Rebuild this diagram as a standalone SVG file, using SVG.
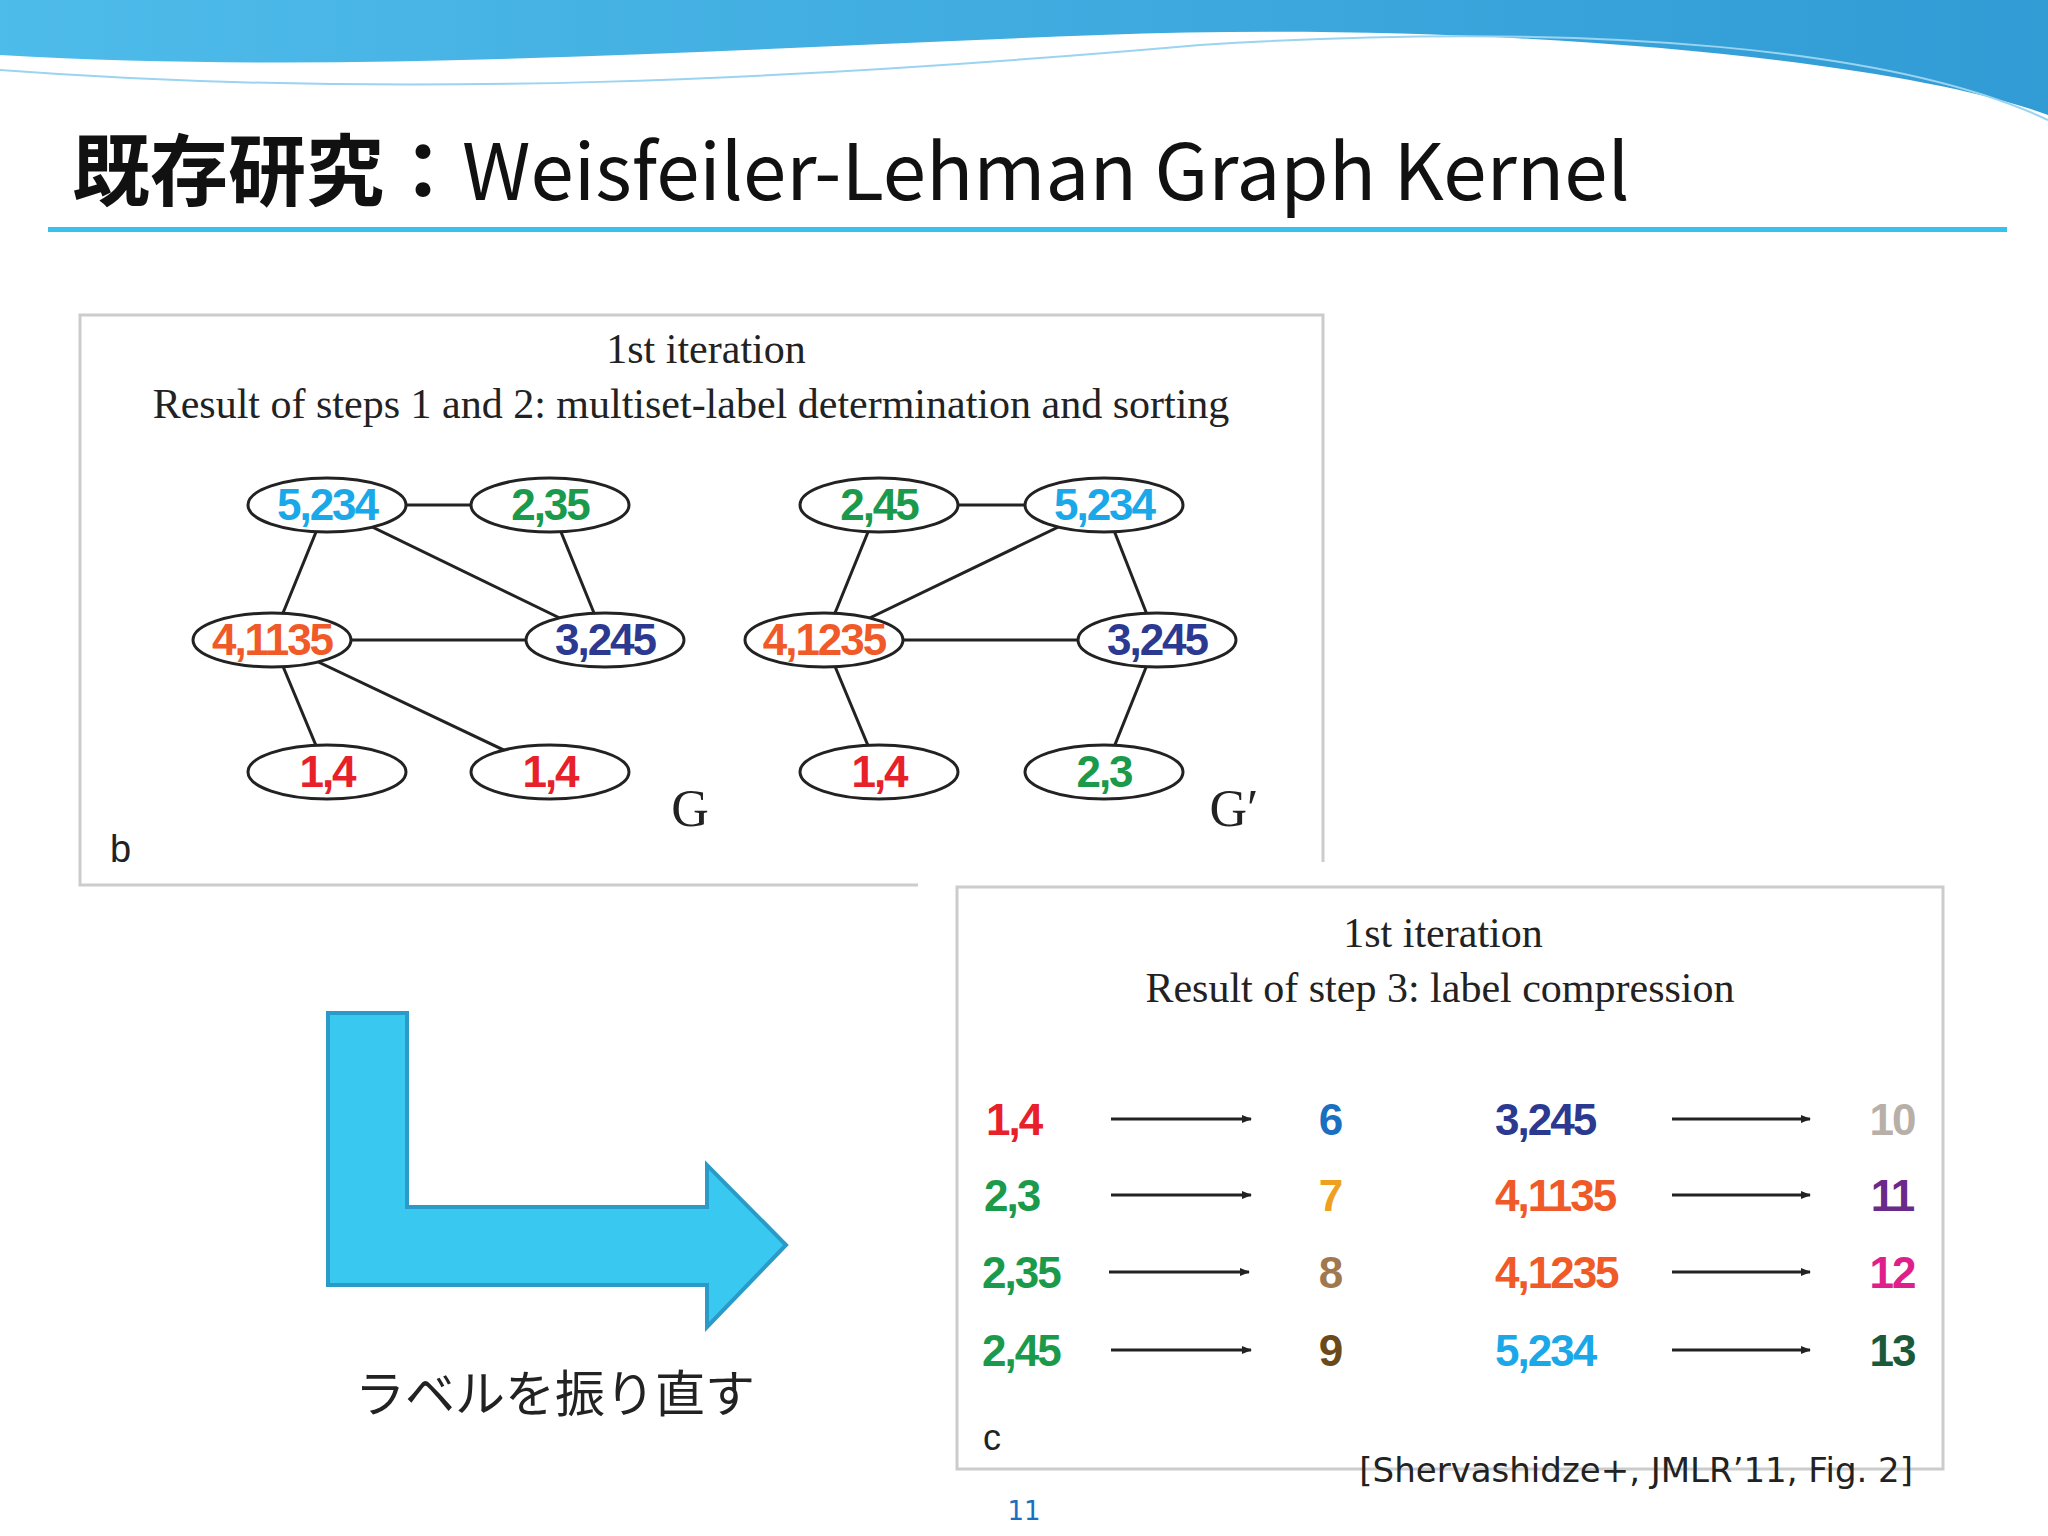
<svg xmlns="http://www.w3.org/2000/svg" width="2048" height="1536" viewBox="0 0 2048 1536">
<style>
.ser{font-family:"Liberation Serif","DejaVu Serif",serif;fill:#222}
.nl{font-family:"Liberation Sans Narrow","Liberation Sans",sans-serif;font-weight:bold;font-size:44px;letter-spacing:-2px;text-anchor:middle}
.nd ellipse{fill:#fff;stroke:#222;stroke-width:3}
.e line{stroke:#222;stroke-width:3}
.ar line{stroke:#222;stroke-width:3}
.r{fill:#e8202a}.g{fill:#1a9a4a}.c{fill:#1aa8e8}.o{fill:#f05a28}.n{fill:#2b3990}
</style>
<defs>
<linearGradient id="wg" x1="0" y1="0" x2="1" y2="0"><stop offset="0" stop-color="#3ab4e8"/><stop offset="1" stop-color="#1a90d0"/></linearGradient>
<marker id="ah" markerWidth="10" markerHeight="10" refX="9" refY="5" orient="auto" markerUnits="userSpaceOnUse"><path d="M0,1 L10,5 L0,9 Z" fill="#222"/></marker>
</defs>
<rect width="2048" height="1536" fill="#fff"/>
<path d="M0,0 H2048 V115 C1900,60 1500,20 1100,35 C700,50 350,75 0,55 Z" fill="url(#wg)" opacity="0.9"/>
<path d="M0,70 C400,100 800,80 1200,45 C1600,20 1900,50 2048,120" fill="none" stroke="#9ad4f0" stroke-width="2"/>
<text x="72" y="200" font-family="'Noto Sans CJK JP','Noto Sans',sans-serif" font-size="78" fill="#111"><tspan font-weight="bold">既存研究：</tspan>Weisfeiler-Lehman Graph Kernel</text>
<rect x="48" y="227" width="1959" height="5" fill="#38c0ee"/>

<g id="panel-b">
<path d="M918,885 H80 V315 H1323 V862" fill="none" stroke="#ccc" stroke-width="3"/>
<text class="ser" x="706" y="363" font-size="42" text-anchor="middle">1st iteration</text>
<text class="ser" x="691" y="418" font-size="42" text-anchor="middle">Result of steps  1  and 2: multiset-label determination and sorting</text>
<text x="110" y="862" font-family="'Liberation Sans',sans-serif" font-size="38" fill="#222">b</text>
<text class="ser" x="690" y="826" font-size="52" text-anchor="middle">G</text>
<text class="ser" x="1234" y="826" font-size="52" text-anchor="middle">G′</text>
</g>

<g id="connectors">
<g class="e">
<line x1="327" y1="505" x2="550" y2="505"/><line x1="327" y1="505" x2="272" y2="640"/><line x1="327" y1="505" x2="605" y2="640"/>
<line x1="550" y1="505" x2="605" y2="640"/><line x1="272" y1="640" x2="605" y2="640"/><line x1="272" y1="640" x2="327" y2="772"/><line x1="272" y1="640" x2="550" y2="772"/>
<line x1="879" y1="505" x2="1104" y2="505"/><line x1="879" y1="505" x2="824" y2="640"/><line x1="1104" y1="505" x2="824" y2="640"/>
<line x1="1104" y1="505" x2="1157" y2="640"/><line x1="824" y1="640" x2="1157" y2="640"/><line x1="824" y1="640" x2="879" y2="772"/><line x1="1157" y1="640" x2="1104" y2="772"/>
</g>
<g class="ar">
<line x1="1111" y1="1119" x2="1251" y2="1119" marker-end="url(#ah)"/><line x1="1672" y1="1119" x2="1810" y2="1119" marker-end="url(#ah)"/>
<line x1="1111" y1="1195" x2="1251" y2="1195" marker-end="url(#ah)"/><line x1="1672" y1="1195" x2="1810" y2="1195" marker-end="url(#ah)"/>
<line x1="1109" y1="1272" x2="1249" y2="1272" marker-end="url(#ah)"/><line x1="1672" y1="1272" x2="1810" y2="1272" marker-end="url(#ah)"/>
<line x1="1111" y1="1350" x2="1251" y2="1350" marker-end="url(#ah)"/><line x1="1672" y1="1350" x2="1810" y2="1350" marker-end="url(#ah)"/>
</g>
</g>

<g id="G-5234" class="nd"><ellipse cx="327" cy="505" rx="79" ry="27"/><text class="nl c" x="327" y="520">5,234</text></g>
<g id="G-235" class="nd"><ellipse cx="550" cy="505" rx="79" ry="27"/><text class="nl g" x="550" y="520">2,35</text></g>
<g id="G-41135" class="nd"><ellipse cx="272" cy="640" rx="79" ry="27"/><text class="nl o" x="272" y="655">4,1135</text></g>
<g id="G-3245" class="nd"><ellipse cx="605" cy="640" rx="79" ry="27"/><text class="nl n" x="605" y="655">3,245</text></g>
<g id="G-14a" class="nd"><ellipse cx="327" cy="772" rx="79" ry="27"/><text class="nl r" x="327" y="787">1,4</text></g>
<g id="G-14b" class="nd"><ellipse cx="550" cy="772" rx="79" ry="27"/><text class="nl r" x="550" y="787">1,4</text></g>
<g id="Gp-245" class="nd"><ellipse cx="879" cy="505" rx="79" ry="27"/><text class="nl g" x="879" y="520">2,45</text></g>
<g id="Gp-5234" class="nd"><ellipse cx="1104" cy="505" rx="79" ry="27"/><text class="nl c" x="1104" y="520">5,234</text></g>
<g id="Gp-41235" class="nd"><ellipse cx="824" cy="640" rx="79" ry="27"/><text class="nl o" x="824" y="655">4,1235</text></g>
<g id="Gp-3245" class="nd"><ellipse cx="1157" cy="640" rx="79" ry="27"/><text class="nl n" x="1157" y="655">3,245</text></g>
<g id="Gp-14" class="nd"><ellipse cx="879" cy="772" rx="79" ry="27"/><text class="nl r" x="879" y="787">1,4</text></g>
<g id="Gp-23" class="nd"><ellipse cx="1104" cy="772" rx="79" ry="27"/><text class="nl g" x="1104" y="787">2,3</text></g>

<g id="panel-c">
<rect x="957" y="887" width="986" height="582" fill="none" stroke="#ccc" stroke-width="3"/>
<text class="ser" x="1443" y="947" font-size="42" text-anchor="middle">1st iteration</text>
<text class="ser" x="1440" y="1002" font-size="42" text-anchor="middle">Result of step 3: label compression</text>
<text x="983" y="1450" font-family="'Liberation Sans',sans-serif" font-size="36" fill="#222">c</text>
<g style="text-anchor:start">
<text class="nl r" x="986" y="1135" style="text-anchor:start">1,4</text>
<text class="nl g" x="984" y="1211" style="text-anchor:start">2,3</text>
<text class="nl g" x="982" y="1288" style="text-anchor:start">2,35</text>
<text class="nl g" x="982" y="1366" style="text-anchor:start">2,45</text>
<text class="nl n" x="1495" y="1135" style="text-anchor:start">3,245</text>
<text class="nl o" x="1495" y="1211" style="text-anchor:start">4,1135</text>
<text class="nl o" x="1495" y="1288" style="text-anchor:start">4,1235</text>
<text class="nl c" x="1495" y="1366" style="text-anchor:start">5,234</text>
</g>
<text class="nl" x="1330" y="1135" fill="#1a70c0">6</text>
<text class="nl" x="1330" y="1211" fill="#f0a020">7</text>
<text class="nl" x="1330" y="1288" fill="#a07850">8</text>
<text class="nl" x="1330" y="1366" fill="#6a4a1a">9</text>
<text class="nl" x="1892" y="1135" fill="#b8b0a8">10</text>
<text class="nl" x="1892" y="1211" fill="#6a2a8a">11</text>
<text class="nl" x="1892" y="1288" fill="#e0208a">12</text>
<text class="nl" x="1892" y="1366" fill="#1a5a3a">13</text>
</g>

<g id="big-arrow">
<path d="M328,1013 H407 V1207 H707 V1165 L786,1245 L707,1327 V1285 H328 Z" fill="#38c8f0" stroke="#2a9ac8" stroke-width="4"/>
<text x="555" y="1412" font-family="'Noto Sans CJK JP',sans-serif" font-size="50" fill="#222" text-anchor="middle">ラベルを振り直す</text>
</g>
<text x="1913" y="1482" font-family="'DejaVu Sans',sans-serif" font-size="34" fill="#222" text-anchor="end">[Shervashidze+, JMLR’11, Fig. 2]</text>
<text x="1024" y="1520" font-family="'DejaVu Sans',sans-serif" font-size="26" fill="#1a70c0" text-anchor="middle">11</text>
</svg>
